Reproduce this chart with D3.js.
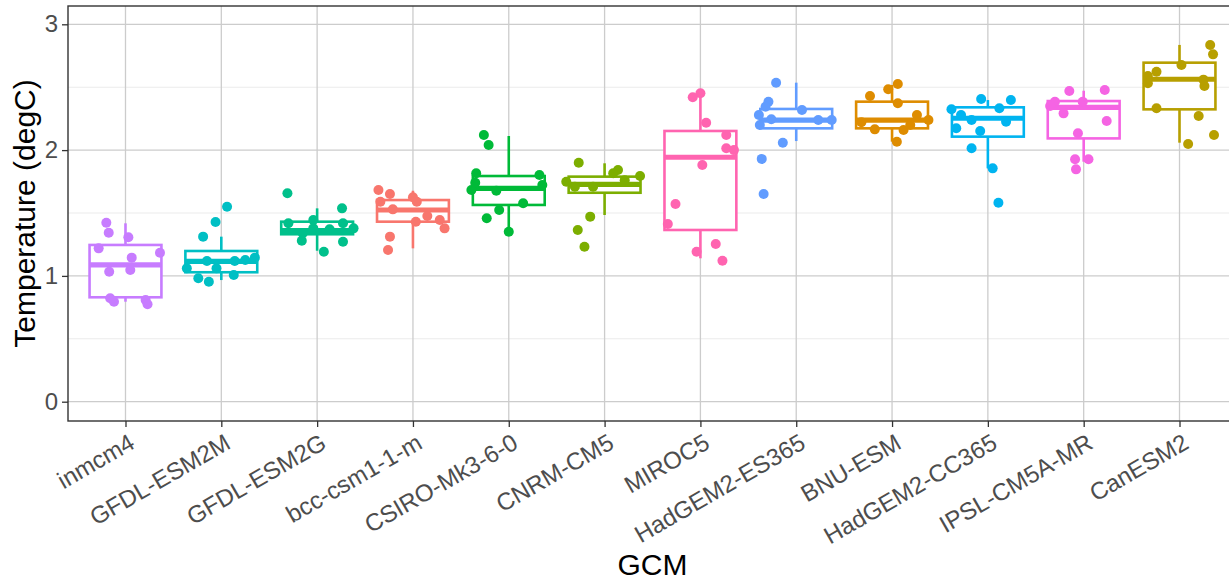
<!DOCTYPE html>
<html>
<head>
<meta charset="utf-8">
<script src="https://cdn.jsdelivr.net/npm/d3@7"></script>
<style>
  html, body { margin: 0; padding: 0; background: #fff; }
  svg { display: block; font-family: Arial, "Liberation Sans", sans-serif; }
</style>
</head>
<body>
<svg id="chart" width="1229" height="582"></svg>
<script>
// ---------- data ----------
const gcms = ["inmcm4", "GFDL-ESM2M", "GFDL-ESM2G", "bcc-csm1-1-m", "CSIRO-Mk3-6-0",
  "CNRM-CM5", "MIROC5", "HadGEM2-ES365", "BNU-ESM", "HadGEM2-CC365", "IPSL-CM5A-MR", "CanESM2"];

const gcmColors = ["#C77CFF", "#00BFC4", "#00C08B", "#F8766D", "#00BA38", "#7CAE00",
  "#FF64B0", "#619CFF", "#DE8C00", "#00B4F0", "#F564E3", "#B79F00"];

const whiskerLo = [0.795, 0.967, 1.200, 1.219, 1.351, 1.484, 1.140, 2.072, 2.067, 1.855, 1.908, 2.059];
const q1        = [0.830, 1.029, 1.331, 1.431, 1.564, 1.661, 1.365, 2.173, 2.173, 2.107, 2.093, 2.324];
const medians   = [1.087, 1.115, 1.360, 1.524, 1.696, 1.728, 1.943, 2.239, 2.239, 2.253, 2.340, 2.563];
const q3        = [1.246, 1.198, 1.431, 1.603, 1.794, 1.789, 2.152, 2.327, 2.385, 2.340, 2.390, 2.695];
const whiskerHi = [1.418, 1.312, 1.537, 1.677, 2.112, 1.895, 2.452, 2.536, 2.518, 2.398, 2.472, 2.836];

// temperature of each jittered point, per GCM
const pointValues = [
  [1.423, 1.343, 1.307, 1.219, 1.184, 1.145, 1.033, 1.047, 0.822, 0.795, 0.808, 0.774],
  [1.550, 1.428, 1.312, 1.145, 1.126, 1.118, 1.118, 1.060, 1.060, 0.981, 0.954, 1.007],
  [1.657, 1.537, 1.444, 1.418, 1.418, 1.339, 1.378, 1.378, 1.280, 1.272, 1.192, 1.370],
  [1.683, 1.651, 1.625, 1.590, 1.590, 1.529, 1.476, 1.431, 1.444, 1.378, 1.312, 1.206],
  [2.120, 2.040, 1.816, 1.802, 1.683, 1.677, 1.723, 1.577, 1.524, 1.458, 1.351, 1.740],
  [1.900, 1.842, 1.794, 1.749, 1.709, 1.709, 1.816, 1.471, 1.365, 1.232, 1.760],
  [2.452, 2.420, 2.218, 2.120, 2.014, 2.000, 1.882, 1.572, 1.413, 1.254, 1.192, 1.121],
  [2.536, 2.385, 2.345, 2.319, 2.279, 2.245, 2.239, 2.200, 2.059, 1.930, 1.651, 2.239],
  [2.526, 2.483, 2.430, 2.372, 2.279, 2.239, 2.165, 2.160, 2.067, 2.222, 2.200],
  [2.406, 2.398, 2.325, 2.332, 2.226, 2.173, 2.152, 2.014, 1.855, 1.582, 2.279, 2.240],
  [2.470, 2.478, 2.385, 2.385, 2.292, 2.232, 2.134, 1.927, 1.927, 1.847, 2.350],
  [2.836, 2.761, 2.677, 2.623, 2.589, 2.531, 2.510, 2.332, 2.271, 2.120, 2.048, 2.560]
];
// horizontal jitter of each point, in category-width units
const pointJitter = [
  [-0.20, -0.175, 0.03, -0.28, 0.36, 0.065, -0.17, 0.05, -0.16, -0.12, 0.21, 0.23],
  [0.06, -0.06, -0.19, 0.35, 0.25, 0.14, -0.15, -0.36, -0.05, -0.24, -0.13, 0.13],
  [-0.31, 0.26, -0.04, -0.30, 0.27, -0.15, -0.04, 0.38, -0.16, 0.27, 0.07, 0.13],
  [-0.36, -0.24, 0.00, -0.34, 0.04, -0.21, 0.15, 0.03, 0.28, 0.33, -0.24, -0.26],
  [-0.26, -0.21, -0.34, 0.32, -0.39, -0.13, 0.35, 0.15, -0.10, -0.23, 0.00, -0.35],
  [-0.27, 0.14, 0.37, -0.40, -0.12, -0.31, 0.09, -0.15, -0.28, -0.21, 0.21],
  [0.00, -0.08, 0.06, 0.27, 0.27, 0.35, 0.02, -0.26, -0.34, 0.16, -0.04, 0.23],
  [-0.21, -0.29, -0.32, 0.06, -0.39, -0.26, 0.23, -0.38, -0.14, -0.36, -0.34, 0.37],
  [0.06, -0.04, -0.23, 0.06, 0.26, 0.38, -0.18, 0.12, 0.05, -0.32, 0.19],
  [-0.07, 0.24, -0.38, 0.12, 0.19, -0.33, -0.08, -0.17, 0.05, 0.11, -0.28, -0.17],
  [-0.15, 0.22, -0.30, -0.01, -0.21, 0.24, -0.06, -0.09, 0.05, -0.08, -0.35],
  [0.32, 0.35, 0.02, -0.24, -0.33, -0.33, 0.26, -0.24, 0.20, 0.36, 0.09, 0.25]
];

const yTicks = [0, 1, 2, 3];
const yMinor = [0.5, 1.5, 2.5];
const xTitle = "GCM";
const yTitle = "Temperature (degC)";

// ---------- layout ----------
const svg = d3.select("#chart");
const panel = { left: 68, right: 1237, top: 6, bottom: 421 };
const step = (panel.right - panel.left) / (gcms.length - 1 + 1.2);

const x = d3.scalePoint()
  .domain(gcms)
  .range([panel.left + 0.6 * step, panel.right - 0.6 * step]);

const y = d3.scaleLinear().domain([0, 3]).range([401.7, 24.3]);

// grid
const grid = svg.append("g");
grid.selectAll("line.minor").data(yMinor).join("line")
  .attr("x1", panel.left).attr("x2", panel.right)
  .attr("y1", d => y(d)).attr("y2", d => y(d))
  .attr("stroke", "#ebebeb").attr("stroke-width", 1.1);
grid.selectAll("line.majory").data(yTicks).join("line")
  .attr("x1", panel.left).attr("x2", panel.right)
  .attr("y1", d => y(d)).attr("y2", d => y(d))
  .attr("stroke", "#cccccc").attr("stroke-width", 1.3);
grid.selectAll("line.majorx").data(gcms).join("line")
  .attr("x1", d => x(d)).attr("x2", d => x(d))
  .attr("y1", panel.top).attr("y2", panel.bottom)
  .attr("stroke", "#cccccc").attr("stroke-width", 1.3);

// boxes
const bw = 0.75 * step;
const boxes = svg.append("g").selectAll("g").data(gcms).join("g");
boxes.append("line")
  .attr("x1", d => x(d)).attr("x2", d => x(d))
  .attr("y1", (d, i) => y(whiskerHi[i])).attr("y2", (d, i) => y(q3[i]))
  .attr("stroke", (d, i) => gcmColors[i]).attr("stroke-width", 2.6);
boxes.append("line")
  .attr("x1", d => x(d)).attr("x2", d => x(d))
  .attr("y1", (d, i) => y(q1[i])).attr("y2", (d, i) => y(whiskerLo[i]))
  .attr("stroke", (d, i) => gcmColors[i]).attr("stroke-width", 2.6);
boxes.append("rect")
  .attr("x", d => x(d) - bw / 2).attr("width", bw)
  .attr("y", (d, i) => y(q3[i]))
  .attr("height", (d, i) => y(q1[i]) - y(q3[i]))
  .attr("fill", "#ffffff")
  .attr("stroke", (d, i) => gcmColors[i]).attr("stroke-width", 2.6);
boxes.append("line")
  .attr("x1", d => x(d) - bw / 2).attr("x2", d => x(d) + bw / 2)
  .attr("y1", (d, i) => y(medians[i])).attr("y2", (d, i) => y(medians[i]))
  .attr("stroke", (d, i) => gcmColors[i]).attr("stroke-width", 5.2);

// jittered points
const pts = [];
gcms.forEach((g, i) => pointValues[i].forEach((v, j) =>
  pts.push({ g, i, v, dx: pointJitter[i][j] })));
svg.append("g").selectAll("circle").data(pts).join("circle")
  .attr("cx", d => x(d.g) + d.dx * step)
  .attr("cy", d => y(d.v))
  .attr("r", 5)
  .attr("fill", d => gcmColors[d.i]);

// panel border
svg.append("rect")
  .attr("x", panel.left).attr("y", panel.top)
  .attr("width", panel.right - panel.left).attr("height", panel.bottom - panel.top)
  .attr("fill", "none").attr("stroke", "#333333").attr("stroke-width", 1.4);

// y axis
const yAxis = svg.append("g")
  .attr("transform", `translate(${panel.left},0)`)
  .call(d3.axisLeft(y).tickValues(yTicks).tickSize(6).tickPadding(4).tickFormat(d3.format("d")));
yAxis.select(".domain").remove();
yAxis.selectAll(".tick line").attr("stroke", "#333333").attr("stroke-width", 1.3);
yAxis.selectAll(".tick text")
  .attr("fill", "#4d4d4d").attr("font-size", 24)
  .attr("font-family", "Arial, 'Liberation Sans', sans-serif");

// x axis
const xAxis = svg.append("g")
  .attr("transform", `translate(0,${panel.bottom})`)
  .call(d3.axisBottom(x).tickSize(6).tickFormat(""));
xAxis.select(".domain").remove();
xAxis.selectAll(".tick line").attr("stroke", "#333333").attr("stroke-width", 1.3);
xAxis.selectAll(".tick text").remove();
svg.append("g").selectAll("text").data(gcms).join("text")
  .attr("transform", d => `translate(${x(d) + 2},${panel.bottom + 11}) rotate(-30)`)
  .attr("text-anchor", "end")
  .attr("dy", "0.74em")
  .attr("fill", "#4d4d4d")
  .attr("font-size", 24)
  .text(d => d);

// titles
svg.append("text")
  .attr("x", (panel.left + panel.right) / 2).attr("y", 575)
  .attr("text-anchor", "middle")
  .attr("font-size", 30).attr("fill", "#000")
  .text(xTitle);
svg.append("text")
  .attr("transform", `translate(35,${(panel.top + panel.bottom) / 2}) rotate(-90)`)
  .attr("text-anchor", "middle")
  .attr("font-size", 30).attr("fill", "#000")
  .text(yTitle);
</script>
</body>
</html>
